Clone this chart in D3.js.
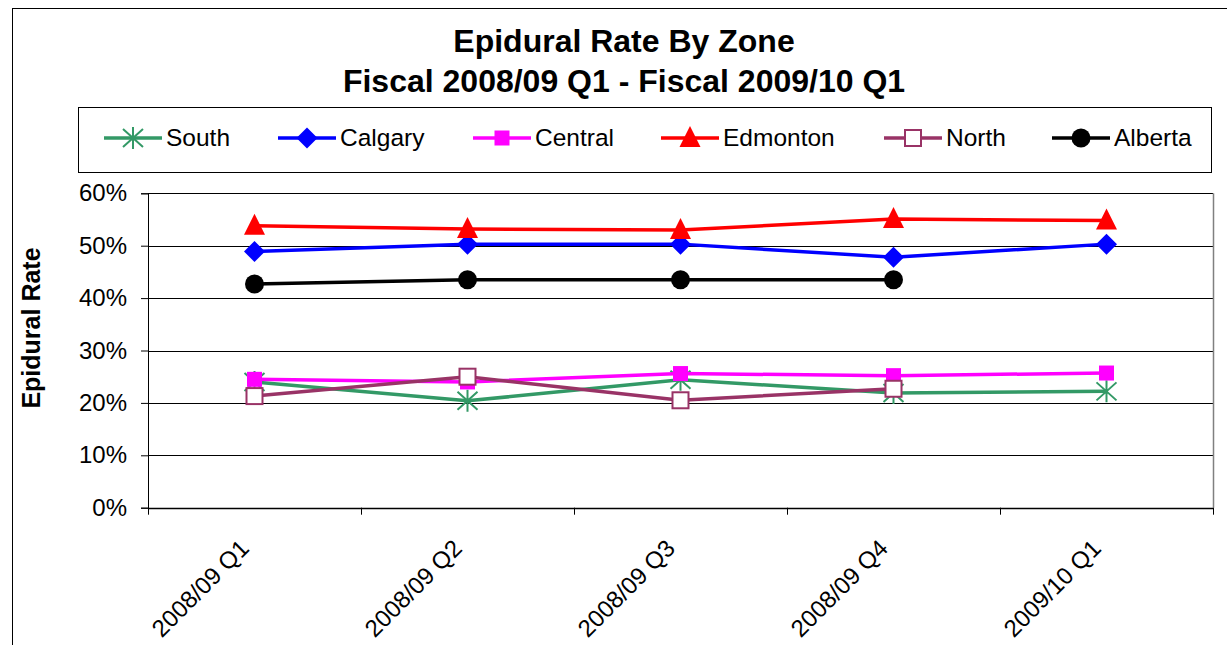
<!DOCTYPE html>
<html>
<head>
<meta charset="utf-8">
<script src="https://cdn.jsdelivr.net/npm/d3@7"></script>
<style>
  html, body { margin: 0; padding: 0; background: #fff; }
  svg { display: block; font-family: "Liberation Sans", Arial, sans-serif; }
</style>
</head>
<body>
<svg id="chart" width="1227" height="645"></svg>
<script>
// Quarters on the category axis
const quarters = ["2008/09 Q1", "2008/09 Q2", "2008/09 Q3", "2008/09 Q4", "2009/10 Q1"];

// Epidural rate per zone (fraction of deliveries); null = not reported
const south    = [0.240, 0.204, 0.244, 0.219, 0.222];
const calgary  = [0.489, 0.503, 0.503, 0.478, 0.503];
const central  = [0.245, 0.240, 0.256, 0.252, 0.257];
const edmonton = [0.538, 0.532, 0.530, 0.551, 0.548];
const north    = [0.213, 0.250, 0.205, 0.227, null];
const alberta  = [0.427, 0.435, 0.435, 0.435, null];

const yTicks = [0, 0.1, 0.2, 0.3, 0.4, 0.5, 0.6];

const seriesList = [
  { name: "South",    values: south,    color: "#339966", marker: "asterisk" },
  { name: "Calgary",  values: calgary,  color: "#0000FF", marker: "diamond" },
  { name: "Central",  values: central,  color: "#FF00FF", marker: "square" },
  { name: "Edmonton", values: edmonton, color: "#FF0000", marker: "triangle" },
  { name: "North",    values: north,    color: "#993366", marker: "hollowSquare" },
  { name: "Alberta",  values: alberta,  color: "#000000", marker: "circle" }
];

const svg = d3.select("#chart");

// Outer chart frame
svg.append("rect")
  .attr("x", 12.5).attr("y", 8.5)
  .attr("width", 1240).attr("height", 660)
  .attr("fill", "none").attr("stroke", "#000").attr("stroke-width", 1);

// Title (two lines)
const title = svg.append("text")
  .attr("text-anchor", "middle")
  .attr("font-weight", "bold")
  .attr("font-size", 32)
  .attr("fill", "#000");
title.append("tspan").attr("x", 624).attr("y", 52).text("Epidural Rate By Zone");
title.append("tspan").attr("x", 624).attr("y", 92).text("Fiscal 2008/09 Q1 - Fiscal 2009/10 Q1");

// Plot area
const plotLeft = 148, plotRight = 1213, plotTop = 193.3, plotBottom = 507.7;

const x = d3.scaleBand().domain(quarters).range([plotLeft, plotRight]);
const y = d3.scaleLinear().domain([0, 0.6]).range([plotBottom, plotTop]);
const cx = q => x(q) + x.bandwidth() / 2;

// Y axis with tick labels
const yAxis = d3.axisLeft(y)
  .tickValues(yTicks)
  .tickFormat(d3.format(".0%"))
  .tickSize(7)
  .tickPadding(14);
const gy = svg.append("g").attr("transform", `translate(${plotLeft},0)`).call(yAxis);
gy.select(".domain").attr("stroke", "#000");
gy.selectAll(".tick line").attr("stroke", "#000");
gy.selectAll(".tick text")
  .attr("font-size", 24)
  .attr("font-family", "Liberation Sans, Arial, sans-serif")
  .attr("fill", "#000");

// Horizontal gridlines
svg.append("g")
  .selectAll("line")
  .data(yTicks.filter(d => d > 0))
  .join("line")
  .attr("x1", plotLeft).attr("x2", plotRight)
  .attr("y1", d => Math.round(y(d)) + 0.5).attr("y2", d => Math.round(y(d)) + 0.5)
  .attr("stroke", "#000").attr("stroke-width", 1);

// Right border of plot area
svg.append("line")
  .attr("x1", plotRight + 0.5).attr("x2", plotRight + 0.5)
  .attr("y1", y(0.6)).attr("y2", y(0))
  .attr("stroke", "#808080").attr("stroke-width", 1.5);

// Category axis with ticks at band edges
const bx = svg.append("g");
bx.append("line")
  .attr("x1", plotLeft).attr("x2", plotRight)
  .attr("y1", Math.round(plotBottom) + 0.5).attr("y2", Math.round(plotBottom) + 0.5)
  .attr("stroke", "#000").attr("stroke-width", 1.5);
const edges = quarters.map(q => x(q)).concat([x.range()[1]]);
bx.selectAll("line.tk")
  .data(edges)
  .join("line")
  .attr("class", "tk")
  .attr("x1", d => Math.round(d) + 0.5).attr("x2", d => Math.round(d) + 0.5)
  .attr("y1", plotBottom).attr("y2", plotBottom + 7)
  .attr("stroke", "#000");
bx.selectAll("text")
  .data(quarters)
  .join("text")
  .attr("transform", d => `translate(${cx(d) - 4},${plotBottom + 42}) rotate(-45)`)
  .attr("text-anchor", "end")
  .attr("font-size", 24)
  .attr("fill", "#000")
  .text(d => d);

// Y axis title
svg.append("text")
  .attr("transform", "translate(40,328) rotate(-90)")
  .attr("text-anchor", "middle")
  .attr("font-weight", "bold")
  .attr("font-size", 25)
  .attr("fill", "#000")
  .text("Epidural Rate");

// Marker drawing
function drawMarker(g, type, color) {
  switch (type) {
    case "asterisk":
      g.append("path")
        .attr("d", "M-10,-9L10,9M-10,9L10,-9M0,-11L0,11")
        .attr("stroke", color).attr("stroke-width", 2).attr("fill", "none");
      break;
    case "diamond":
      g.append("path").attr("d", "M0,-10.5L10.5,0L0,10.5L-10.5,0Z").attr("fill", color);
      break;
    case "square":
      g.append("rect").attr("x", -7.5).attr("y", -7.5).attr("width", 15).attr("height", 15).attr("fill", color);
      break;
    case "triangle":
      g.append("path").attr("d", "M0,-12L10.5,9L-10.5,9Z").attr("fill", color);
      break;
    case "hollowSquare":
      g.append("rect").attr("x", -8).attr("y", -8).attr("width", 16).attr("height", 16)
        .attr("fill", "#fff").attr("stroke", color).attr("stroke-width", 2);
      break;
    case "circle":
      g.append("circle").attr("r", 9.5).attr("fill", color);
      break;
  }
}

// Series lines and markers
const line = d3.line()
  .defined(d => d.v !== null)
  .x(d => cx(d.q))
  .y(d => y(d.v));

seriesList.forEach(s => {
  const pts = quarters.map((q, i) => ({ q, v: s.values[i] }));
  const g = svg.append("g");
  g.append("path")
    .datum(pts)
    .attr("d", line)
    .attr("fill", "none")
    .attr("stroke", s.color)
    .attr("stroke-width", 3.5);
  pts.filter(d => d.v !== null).forEach(d => {
    const m = g.append("g").attr("transform", `translate(${cx(d.q)},${y(d.v)})`);
    drawMarker(m, s.marker, s.color);
  });
});

// Legend
svg.append("rect")
  .attr("x", 78.5).attr("y", 107.5)
  .attr("width", 1133).attr("height", 65)
  .attr("fill", "#fff").attr("stroke", "#000").attr("stroke-width", 1);

const legendX = [104, 278, 473, 661, 884, 1052];
seriesList.forEach((s, i) => {
  const g = svg.append("g").attr("transform", `translate(${legendX[i]},138)`);
  g.append("line").attr("x1", 0).attr("x2", 58).attr("y1", 0).attr("y2", 0)
    .attr("stroke", s.color).attr("stroke-width", 3.5);
  const m = g.append("g").attr("transform", "translate(29,0)");
  drawMarker(m, s.marker, s.color);
  g.append("text")
    .attr("x", 62).attr("y", 8)
    .attr("font-size", 24.5)
    .attr("fill", "#000")
    .text(s.name);
});
</script>
</body>
</html>
